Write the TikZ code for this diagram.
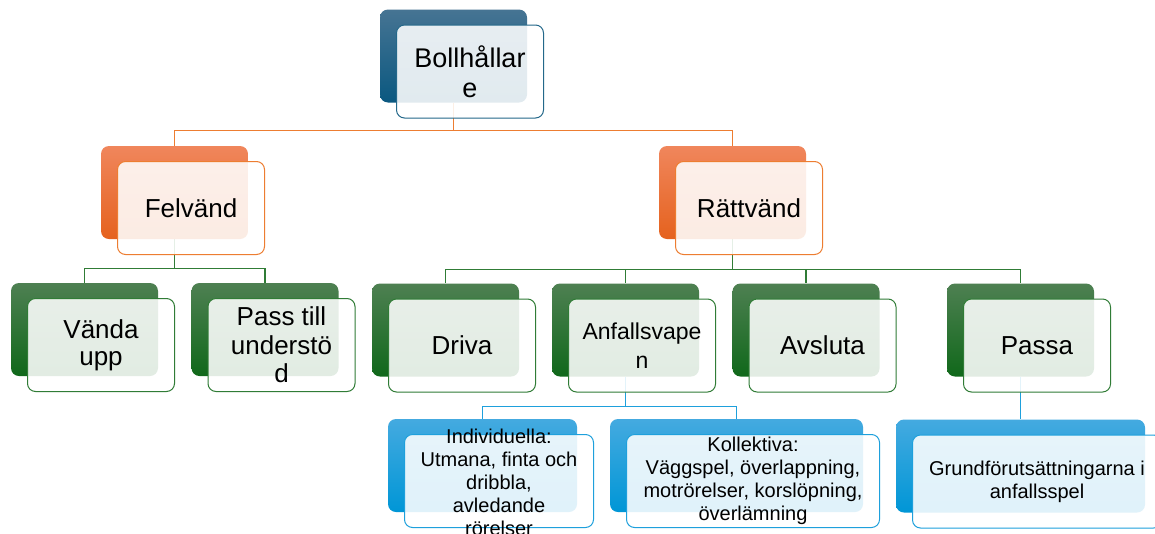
\documentclass[tikz,border=0pt]{standalone}
\usepackage{fontspec}
\setmainfont{Liberation Sans}
\usepackage{xcolor}
\usetikzlibrary{calc,positioning,backgrounds}

\definecolor{navyTop}{RGB}{70,116,147}
\definecolor{navyBot}{RGB}{10,88,128}
\definecolor{navyLine}{RGB}{36,104,138}
\definecolor{orTop}{RGB}{240,134,92}
\definecolor{orBot}{RGB}{229,98,30}
\definecolor{orLine}{RGB}{237,125,49}
\definecolor{grTop}{RGB}{78,128,82}
\definecolor{grBot}{RGB}{16,104,26}
\definecolor{grLine}{RGB}{48,124,54}
\definecolor{blTop}{RGB}{68,170,224}
\definecolor{blBot}{RGB}{0,150,214}
\definecolor{blLine}{RGB}{30,160,220}

\tikzset{
  backbox/.style={rounded corners=8pt,minimum width=147pt,minimum height=93pt,inner sep=0pt},
  frontbox/.style={draw,line width=1pt,rounded corners=8pt,fill=white,fill opacity=.88,
    minimum width=147pt,minimum height=93pt,inner sep=0pt},
  navyback/.style={backbox,top color=navyTop,bottom color=navyBot},
  orback/.style={backbox,top color=orTop,bottom color=orBot},
  grback/.style={backbox,top color=grTop,bottom color=grBot},
  blback/.style={backbox,top color=blTop,bottom color=blBot},
  big/.style={align=center,font=\fontsize{26}{30}\selectfont},
  small/.style={align=center,font=\fontsize{20}{23}\selectfont},
  link/.style={line width=1.2pt},
}

\begin{document}
\begin{tikzpicture}[x=1pt,y=-1pt]
  \useasboundingbox (0,0) rectangle (1155,533);
  % 根节点
  \node[navyback] (boll) at (453.5,56) {};
  \node[frontbox,draw=navyLine] (bollF) at ([xshift=16.5pt,yshift=-15.5pt]boll.center) {};
  \node[big,font=\fontsize{27}{30}\selectfont] (bollT) at (bollF) {Bollhållar\\e};
  % 第二层
  \node[orback] (felv) at (174.5,192.5) {};
  \node[frontbox,draw=orLine] (felvF) at ([xshift=16.5pt,yshift=-15.5pt]felv.center) {};
  \node[big] (felvT) at (felvF) {Felvänd};
  \node[orback] (ratt) at (732.5,192.5) {};
  \node[frontbox,draw=orLine] (rattF) at ([xshift=16.5pt,yshift=-15.5pt]ratt.center) {};
  \node[big] (rattT) at (rattF) {Rättvänd};
  % 第三层
  \node[grback] (vanda) at (84.5,329.5) {};
  \node[frontbox,draw=grLine] (vandaF) at ([xshift=16.5pt,yshift=-15.5pt]vanda.center) {};
  \node[big,font=\fontsize{26}{27}\selectfont] (vandaT) at (vandaF) {Vända\\upp};
  \node[grback] (pass) at (265,329.5) {};
  \node[frontbox,draw=grLine] (passF) at ([xshift=16.5pt,yshift=-15.5pt]pass.center) {};
  \node[big,font=\fontsize{26}{28.5}\selectfont] (passT) at (passF) {Pass till\\understö\\d};
  \node[grback] (driva) at (445.5,330) {};
  \node[frontbox,draw=grLine] (drivaF) at ([xshift=16.5pt,yshift=-15.5pt]driva.center) {};
  \node[big] (drivaT) at (drivaF) {Driva};
  \node[grback] (anfall) at (625.5,330) {};
  \node[frontbox,draw=grLine] (anfallF) at ([xshift=16.5pt,yshift=-15.5pt]anfall.center) {};
  \node[big,font=\fontsize{23}{29}\selectfont] (anfallT) at (anfallF) {Anfallsvape\\n};
  \node[grback] (avsl) at (806,330) {};
  \node[frontbox,draw=grLine] (avslF) at ([xshift=16.5pt,yshift=-15.5pt]avsl.center) {};
  \node[big] (avslT) at (avslF) {Avsluta};
  \node[grback] (passa) at (1020.5,330) {};
  \node[frontbox,draw=grLine] (passaF) at ([xshift=16.5pt,yshift=-15.5pt]passa.center) {};
  \node[big] (passaT) at (passaF) {Passa};
  % 第四层
  \node[blback,minimum width=189pt] (indiv) at (482.5,465.5) {};
  \node[frontbox,draw=blLine,minimum width=189pt] (indivF) at ([xshift=16.5pt,yshift=-15.5pt]indiv.center) {};
  \node[small] (indivT) at ([yshift=-1pt]indivF) {Individuella:\\Utmana, finta och\\dribbla,\\avledande\\rörelser};
  \node[blback,minimum width=253pt] (koll) at (736.5,465.5) {};
  \node[frontbox,draw=blLine,minimum width=253pt] (kollF) at ([xshift=16.5pt,yshift=-15.5pt]koll.center) {};
  \node[small] (kollT) at (kollF) {Kollektiva:\\Väggspel, överlappning,\\motrörelser, korslöpning,\\överlämning};
  \node[blback,minimum width=249pt] (grund) at (1020.5,466) {};
  \node[frontbox,draw=blLine,minimum width=249pt] (grundF) at ([xshift=16.5pt,yshift=-15.5pt]grund.center) {};
  \node[small] (grundT) at (grundF) {Grundförutsättningarna i\\anfallsspel};
  % 连线放在背景层
  \begin{pgfonlayer}{background}
    \fill[white] (0,0) rectangle (1155,533);
    \coordinate (busA) at ([yshift=15pt]felv.north -| boll.south);
    \draw[link,orLine] (boll.south) -- (busA) -| (felv.north);
    \draw[link,orLine] (busA) -| (ratt.north);
    \coordinate (busB) at ([yshift=14pt]vanda.north -| felv.south);
    \draw[link,grLine] (felv.south) -- (busB) -| (vanda.north);
    \draw[link,grLine] (busB) -| (pass.north);
    \coordinate (busC) at ([yshift=14pt]driva.north -| ratt.south);
    \draw[link,grLine] (ratt.south) -- (busC);
    \foreach \c in {driva,anfall,avsl,passa}
      \draw[link,grLine] (busC) -| (\c.north);
    \coordinate (busD) at ([yshift=12pt]indiv.north -| anfall.south);
    \draw[link,blLine] (anfall.south) -- (busD) -| (indiv.north);
    \draw[link,blLine] (busD) -| (koll.north);
    \draw[link,blLine] (passa.south) -- (grund.north);
  \end{pgfonlayer}
\end{tikzpicture}
\end{document}
